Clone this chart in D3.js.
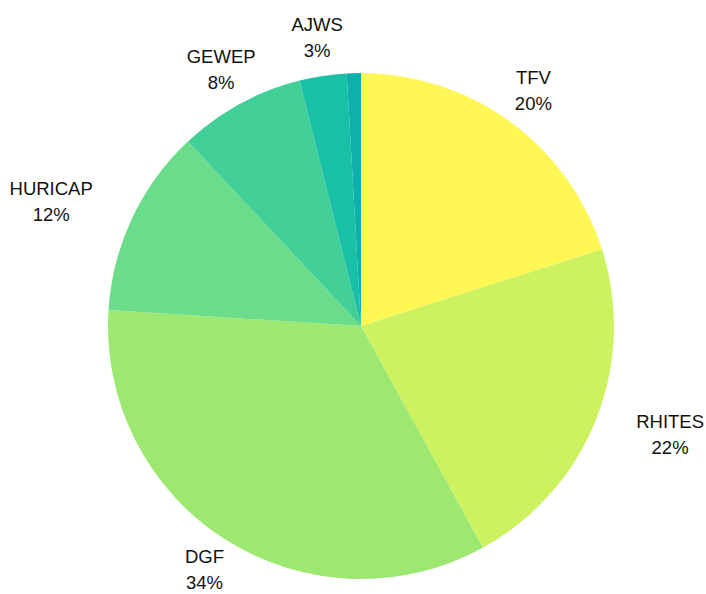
<!DOCTYPE html>
<html>
<head>
<meta charset="utf-8">
<script src="https://cdn.jsdelivr.net/npm/d3@7"></script>
<style>
  body { margin: 0; background: #fff; }
  svg { display: block; }
</style>
</head>
<body>
<div id="chart"></div>
<script>
// slice data, clockwise from 12 o'clock
var names = ['TFV', 'RHITES', 'DGF', 'HURICAP', 'GEWEP', 'AJWS', 'Other'];
var values = [20.1, 21.9, 34.0, 12.0, 8.1, 3.0, 0.9];
var colors = ['#fff754', '#ccf260', '#9de871', '#6bdc89', '#42cf98', '#18c0a5', '#0db0aa'];

var width = 706, height = 594;
var cx = 361, cy = 326, radius = 253, labelRadius = 292;

var svg = d3.select('#chart').append('svg')
    .attr('width', width)
    .attr('height', height);

var total = d3.sum(values);
var data = names.map(function(n, i) { return {name: n, value: values[i], color: colors[i]}; });

var pie = d3.pie().sort(null).value(function(d) { return d.value; });
var arc = d3.arc().innerRadius(0).outerRadius(radius);

var g = svg.append('g').attr('transform', 'translate(' + cx + ',' + cy + ')');
var arcs = pie(data);

g.selectAll('path.slice')
    .data(arcs)
    .enter().append('path')
    .attr('class', 'slice')
    .attr('d', arc)
    .attr('fill', function(d) { return d.data.color; });

var labels = g.selectAll('g.label')
    .data(arcs.filter(function(d) { return d.data.value / total >= 0.015; }))
    .enter().append('g')
    .attr('class', 'label')
    .style('font-family', 'Liberation Sans, Arial, sans-serif')
    .style('font-size', '18.5px')
    .attr('fill', '#111');

labels.each(function(d) {
    var sel = d3.select(this);
    var a = (d.startAngle + d.endAngle) / 2;
    var px = Math.sin(a) * labelRadius, py = -Math.cos(a) * labelRadius;
    var t1 = sel.append('text').attr('text-anchor', 'middle').attr('y', -13).attr('dy', '0.35em')
        .text(d.data.name);
    var t2 = sel.append('text').attr('text-anchor', 'middle').attr('y', 13).attr('dy', '0.35em')
        .text(Math.round(d.data.value / total * 100) + '%');
    var w = Math.max(t1.node().getComputedTextLength(), t2.node().getComputedTextLength());
    // push side labels fully outside the circle
    if (Math.abs(Math.sin(a)) > 0.85) px += Math.sign(Math.sin(a)) * (w / 2 + 4);
    // keep the bottom label inside the frame
    py = Math.min(py, height - cy - 24);
    sel.attr('transform', 'translate(' + px + ',' + py + ')');
});
</script>
</body>
</html>
